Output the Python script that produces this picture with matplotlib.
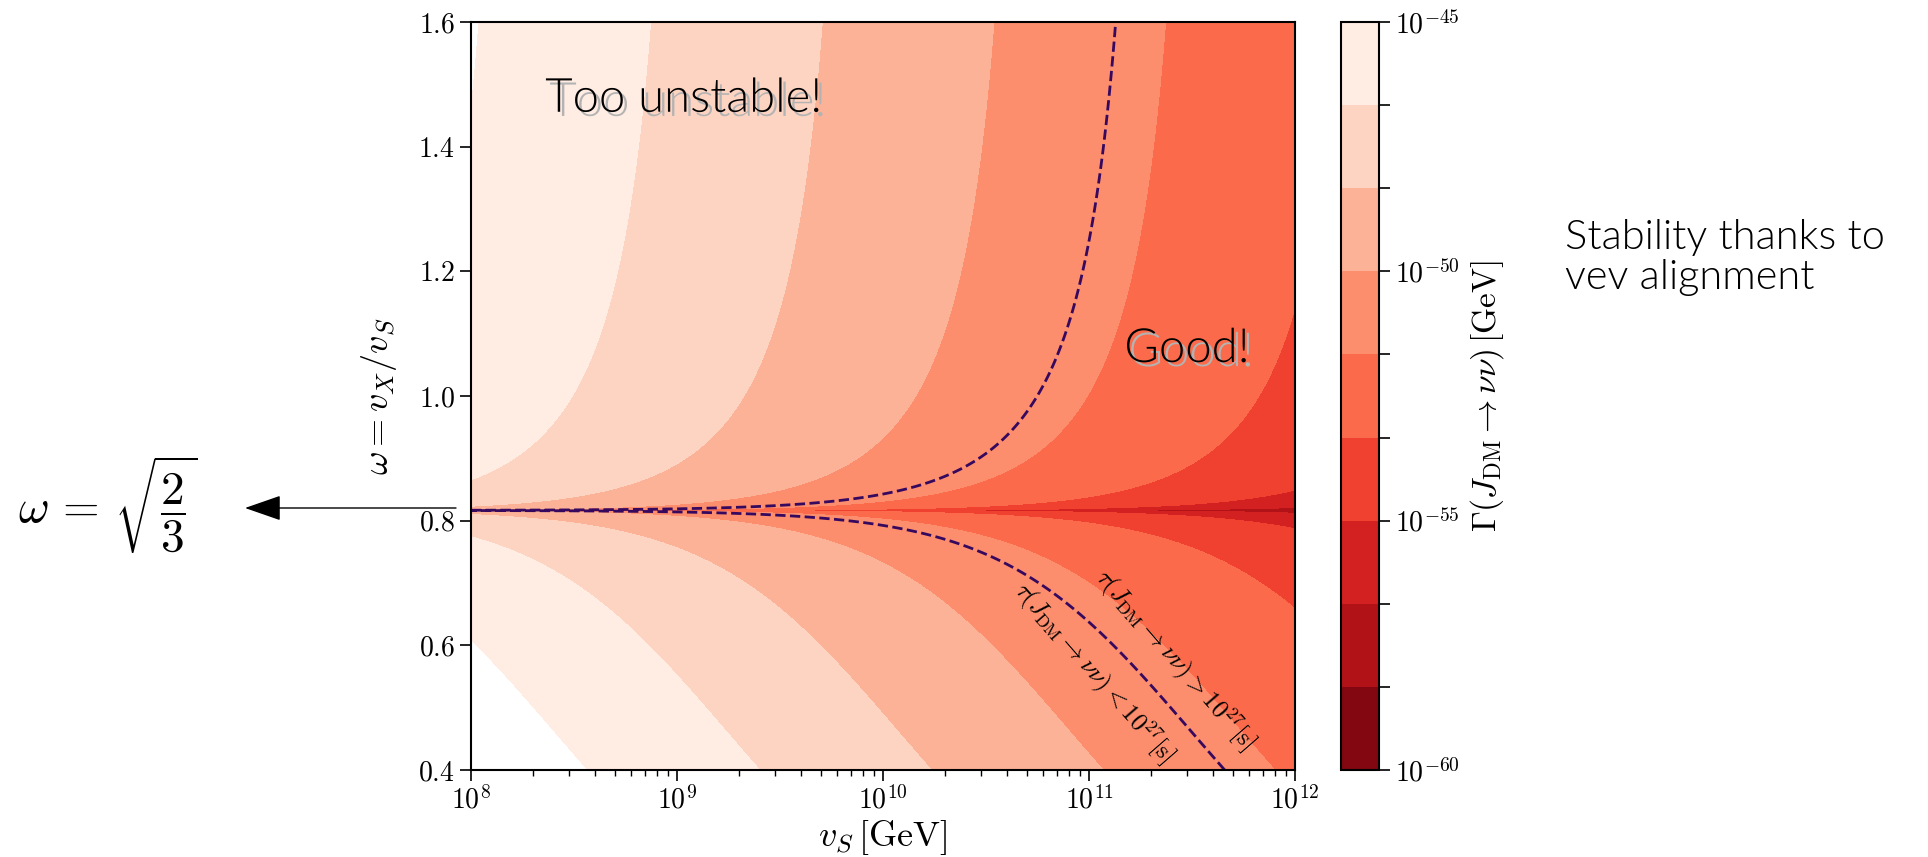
import numpy as np
import matplotlib
matplotlib.use("Agg")
import matplotlib.pyplot as plt
import matplotlib.patheffects as pe

plt.rcParams["mathtext.fontset"] = "cm"
plt.rcParams["font.family"] = "serif"
plt.rcParams["font.serif"] = ["cmr10"]
plt.rcParams["axes.formatter.use_mathtext"] = True

# decay rate model, parameters
log_norm = -28.73       # log10 prefactor
vs_power = 2.0          # Gamma ~ vS^-2
omega_power = 3.66      # extra omega suppression
omega0_sq = 2.0 / 3.0   # vev alignment point
# grid ranges
vs_range = [8, 12]      # log10 vS [GeV]
omega_range = [0.4, 1.6]
# colour levels (log10 Gamma / GeV)
levels = np.linspace(-60, -45, 10)
labelled_levels = [-60, -55, -50, -45]
# lifetime bound
tau_bound = 1e27        # s
hbar = 6.582e-25        # GeV s

omega0 = np.sqrt(omega0_sq)
vs = np.logspace(vs_range[0], vs_range[1], 500)
# fine sampling around the alignment point so the contours reach the left edge
near = np.geomspace(1e-6, 0.05, 200)
omega = np.unique(np.concatenate([np.linspace(omega_range[0], omega_range[1], 501),
                                  omega0 - near, omega0 + near]))
VS, OM = np.meshgrid(vs, omega)
logG = (log_norm - vs_power * np.log10(VS)
        + 2 * np.log10(np.abs(OM**2 - omega0_sq))
        - omega_power * np.log10(OM))

W, H = 1928, 857
fig = plt.figure(figsize=(W / 100, H / 100), dpi=100)
ax = fig.add_axes([471 / W, 87 / H, 824 / W, 748 / H])
cax = fig.add_axes([1341 / W, 87 / H, 38 / W, 748 / H])

cf = ax.contourf(VS, OM, np.maximum(logG, levels[0] + 0.01), levels=levels, cmap="Reds_r")
ax.contour(VS, OM, logG, levels=[np.log10(hbar / tau_bound)],
           colors="#36095e", linestyles="--", linewidths=2)
ax.set_xscale("log")
ax.set_xlim(10**vs_range[0], 10**vs_range[1])
ax.set_ylim(*omega_range)
ax.set_xlabel(r"$v_S\,[\mathrm{GeV}]$", fontsize=26, labelpad=2)
ax.set_ylabel(r"$\omega = v_X/v_S$", fontsize=26, labelpad=14)
ax.tick_params(which="major", labelsize=20, length=8, width=1.2)
ax.tick_params(which="minor", length=4, width=1)
for s in ax.spines.values():
    s.set_linewidth(1.5)

cbar = fig.colorbar(cf, cax=cax)
cbar.set_ticks(levels)
cbar.set_ticklabels([r"$10^{%d}$" % round(lv) if round(lv) in labelled_levels and abs(lv - round(lv)) < 1e-6 else ""
                     for lv in levels])
cbar.ax.tick_params(labelsize=20, length=8, width=1.2)
cbar.outline.set_linewidth(1.5)
cbar.set_label(r"$\Gamma(J_{\mathrm{DM}}\rightarrow\nu\nu)\,[\mathrm{GeV}]$", fontsize=24, labelpad=6)

# lifetime labels along the dashed line
ax.text(2.6e11, 0.576, r"$\tau(J_{\mathrm{DM}}\rightarrow\nu\nu) > 10^{27}[\mathrm{s}]$",
        rotation=-49, rotation_mode="anchor", ha="center", va="center", fontsize=18)
ax.text(1.05e11, 0.556, r"$\tau(J_{\mathrm{DM}}\rightarrow\nu\nu) < 10^{27}[\mathrm{s}]$",
        rotation=-49, rotation_mode="anchor", ha="center", va="center", fontsize=18)

shadow = [pe.withSimplePatchShadow(offset=(3, -3), shadow_rgbFace="0.7", alpha=1.0)]
ax.text(1.08e9, 1.456, "Too unstable!", family="Lato", fontweight=300, color="k",
        fontsize=34, ha="center", va="baseline", path_effects=shadow)
ax.text(10**11.476, 1.0545, "Good!", family="Lato", fontweight=300, color="k",
        fontsize=34, ha="center", va="baseline", path_effects=shadow)

fig.text(1565 / W, 1 - 257 / H, "Stability thanks to\nvev alignment", family="Lato",
         fontweight=300, color="k", fontsize=30, ha="left", va="center", linespacing=1.1)

fig.text(108 / W, 1 - 505 / H, r"$\omega\, =\, \sqrt{\dfrac{2}{3}}$", fontsize=34,
         ha="center", va="center")
ax.annotate("", xy=(245, H - 508), xytext=(456, H - 508),
            xycoords="figure pixels", textcoords="figure pixels",
            arrowprops=dict(arrowstyle="-|>,head_length=1.15,head_width=0.4",
                            mutation_scale=20, color="k", lw=1, shrinkA=0, shrinkB=0))

fig.savefig("out.png", dpi=100)
